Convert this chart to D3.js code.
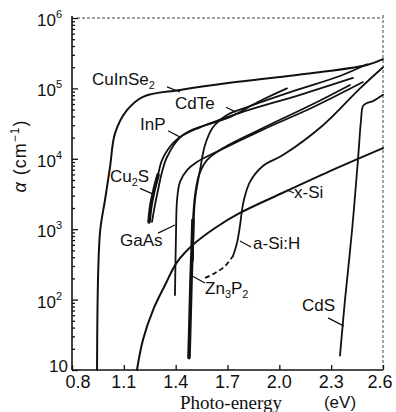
<!DOCTYPE html>
<html>
<head>
<meta charset="utf-8">
<script src="https://cdn.jsdelivr.net/npm/d3@7"></script>
<style>
body{margin:0;background:#fff}
svg{display:block;background:#fff}
text{font-family:"Liberation Sans",Arial,sans-serif;fill:#111}
</style>
</head>
<body>
<svg id="chart"></svg>
<script>
// tick values / labels
const xTicks=[0.8,1.1,1.4,1.7,2.0,2.3,2.6];
const xTickLabels=['0.8','1.1','1.4','1.7','2.0','2.3','2.6'];
const yTicks=[10,1e2,1e3,1e4,1e5,1e6];
const yTickExp=['','2','3','4','5','6'];

// curves: [photon energy (eV), alpha (cm^-1)]
const cuInSe2=[[0.945,10],[0.962,890],[0.991,2600],[1.020,7600],[1.049,2.3e4],[1.118,4.9e4],[1.211,7.6e4],[1.425,9.5e4],[1.714,1.2e5],[2.102,1.55e5],[2.507,2.15e5],[2.600,2.6e5]];
const cdTe=[[1.500,360],[1.512,2600],[1.541,6900],[1.570,1.57e4],[1.616,2.8e4],[1.697,4.2e4],[1.830,5.6e4],[2.102,9.5e4],[2.351,1.5e5],[2.507,2.2e5]];
const inP=[[1.263,1270],[1.280,2200],[1.298,3600],[1.321,6500],[1.350,1.06e4],[1.425,2.0e4],[1.541,2.8e4],[1.772,4.5e4],[2.120,8.1e4],[2.426,1.41e5]];
const cu2S=[[1.246,1270],[1.257,2200],[1.275,3600],[1.298,5900],[1.321,9600],[1.385,1.67e4],[1.483,2.5e4],[1.714,3.9e4],[1.876,6.4e4],[2.044,1.0e5]];
const gaAs=[[1.396,116],[1.402,880],[1.408,2600],[1.425,4700],[1.466,6900],[1.523,9000],[1.657,1.33e4],[1.905,2.6e4],[2.195,5.4e4],[2.484,1.23e5]];
const zn3P2=[[1.477,15],[1.483,51],[1.489,190],[1.495,510],[1.500,1350],[1.512,3060],[1.535,5900],[1.581,9600],[1.674,1.42e4],[1.905,2.74e4],[2.195,6.0e4],[2.409,1.12e5]];
const xSi=[[1.176,10],[1.211,27],[1.269,71],[1.338,160],[1.408,340],[1.500,600],[1.628,1040],[1.772,1700],[2.004,3160],[2.293,6700],[2.600,1.42e4]];
const aSiHDashed=[[1.570,203],[1.628,239],[1.686,300],[1.732,416]];
const aSiH=[[1.732,416],[1.755,640],[1.772,1110],[1.784,1870],[1.795,2600],[1.830,4700],[1.905,7900],[2.021,1.13e4],[2.253,3.0e4],[2.467,1.0e5],[2.600,2.0e5]];
const cdS=[[2.351,16],[2.380,99],[2.421,975],[2.455,9600],[2.473,3.6e4],[2.484,5.6e4],[2.507,6.2e4],[2.542,6.6e4],[2.600,8.1e4]];

// curve labels: text pieces ([text, subscript?]), text anchor and leader line
const labels=[
  {t:[['CuInSe',0],['2',1]],at:[0.916,9.8e4],lead:[[1.350,1.05e5],[1.425,8.9e4]]},
  {t:[['CdTe',0]],at:[1.396,4.5e4],lead:[[1.691,5.4e4],[1.749,4.6e4]]},
  {t:[['InP',0]],at:[1.194,2.25e4],lead:[[1.356,2.5e4],[1.431,2.0e4]]},
  {t:[['Cu',0],['2',1],['S',0]],at:[1.020,4100],lead:[[1.194,3800],[1.263,3200]]},
  {t:[['GaAs',0]],at:[1.078,510],lead:[[1.298,880],[1.396,1150]]},
  {t:[['x-Si',0]],at:[2.085,2430],lead:[[2.044,3600],[2.085,3270]]},
  {t:[['a-Si:H',0]],at:[1.848,460],lead:[[1.772,680],[1.836,560]]},
  {t:[['Zn',0],['3',1],['P',0],['2',1]],at:[1.570,105],lead:[[1.495,216],[1.570,172]]},
  {t:[['CdS',0]],at:[2.131,60],lead:[[2.282,55],[2.374,42]]}
];

const width=396, height=412;
const padLeft=72, padRight=383, padTop=18, padBottom=370;

const svg=d3.select('#chart').attr('width',width).attr('height',height);

const xScale=d3.scaleLinear().domain([0.8,2.6]).range([padLeft,padRight]);
const yScale=d3.scaleLog().domain([10,1e6]).range([padBottom,padTop]);

// frame
svg.append('line').attr('x1',padLeft).attr('x2',padLeft).attr('y1',padTop-2).attr('y2',padBottom)
  .attr('stroke','#111').attr('stroke-width',1.6);
svg.append('line').attr('x1',padLeft).attr('x2',padRight).attr('y1',padBottom).attr('y2',padBottom)
  .attr('stroke','#111').attr('stroke-width',1.6);
svg.append('line').attr('x1',padLeft+5).attr('x2',padRight).attr('y1',padTop).attr('y2',padTop)
  .attr('stroke','#444').attr('stroke-width',1).attr('stroke-dasharray','3,2');
svg.append('line').attr('x1',padRight).attr('x2',padRight).attr('y1',padTop-3).attr('y2',padBottom)
  .attr('stroke','#444').attr('stroke-width',1).attr('stroke-dasharray','3,2');

// y ticks (inside)
let yMinor=[];
for(let e=1;e<6;e++){for(let k=2;k<10;k++){yMinor.push(k*Math.pow(10,e));}}
let gyMinor=svg.append('g').attr('transform','translate('+padLeft+',0)')
  .call(d3.axisLeft(yScale).tickValues(yMinor).tickSize(-3).tickFormat(''));
let gy=svg.append('g').attr('transform','translate('+padLeft+',0)')
  .call(d3.axisLeft(yScale).tickValues(yTicks).tickSize(-6).tickFormat(''));
let gx=svg.append('g').attr('transform','translate(0,'+padBottom+')')
  .call(d3.axisBottom(xScale).tickValues(xTicks).tickSize(-5).tickFormat(''));
[gyMinor,gy,gx].forEach(g=>{
  g.select('.domain').remove();
  g.selectAll('line').attr('stroke','#111').attr('stroke-width',1.3);
});

// y tick labels
yTicks.forEach((v,i)=>{
  let t=svg.append('text')
    .attr('x',yTickExp[i]?padLeft-10:padLeft-4)
    .attr('y',yScale(v)+(yTickExp[i]?8:2))
    .attr('text-anchor','end')
    .attr('font-size',17)
    .text('10');
  if(yTickExp[i]){
    t.append('tspan').attr('dy',-8).attr('font-size',11).text(yTickExp[i]);
  }
});

// x tick labels
xTicks.forEach((v,i)=>{
  svg.append('text')
    .attr('x',xScale(v)+(i==0?6:(i==xTicks.length-1?-3:0)))
    .attr('y',388)
    .attr('text-anchor','middle')
    .attr('font-size',18)
    .text(xTickLabels[i]);
});

// axis titles
svg.append('text').attr('x',180).attr('y',409)
  .style('font-family','"Liberation Serif","Times New Roman",serif')
  .attr('font-size',19).text('Photo-energy');
svg.append('text').attr('x',340).attr('y',408).attr('text-anchor','middle')
  .attr('font-size',17).text('(eV)');
let yt=svg.append('text').attr('transform','translate(26,156) rotate(-90)')
  .attr('text-anchor','middle').attr('font-size',18).attr('letter-spacing',1);
yt.append('tspan').style('font-style','italic').text('α');
yt.append('tspan').text('  (cm');
yt.append('tspan').attr('dy',-7).attr('font-size',12).text('−1');
yt.append('tspan').attr('dy',7).text(')');

// curves
const line=d3.line()
  .x(d=>xScale(d[0]))
  .y(d=>yScale(d[1]))
  .curve(d3.curveCatmullRom.alpha(0.5));

const curves=[
  {data:cuInSe2,w:2},
  {data:cdTe,w:1.8},
  {data:inP,w:1.8},
  {data:cu2S,w:1.8,thickBelow:6000},
  {data:gaAs,w:1.8},
  {data:zn3P2,w:1.8,thickBelow:1400},
  {data:xSi,w:2},
  {data:aSiH,w:1.8},
  {data:cdS,w:1.8}
];

curves.forEach(c=>{
  svg.append('path').attr('d',line(c.data))
    .attr('fill','none').attr('stroke','#111').attr('stroke-width',c.w)
    .attr('stroke-linejoin','round').attr('stroke-linecap','round');
  if(c.thickBelow){
    svg.append('path').attr('d',line(c.data.filter(d=>d[1]<=c.thickBelow)))
      .attr('fill','none').attr('stroke','#111').attr('stroke-width',3.6)
      .attr('stroke-linecap','round');
  }
});
svg.append('path').attr('d',line(aSiHDashed))
  .attr('fill','none').attr('stroke','#111').attr('stroke-width',1.8)
  .attr('stroke-dasharray','5,3');

// labels
labels.forEach(l=>{
  let t=svg.append('text').attr('x',xScale(l.at[0])).attr('y',yScale(l.at[1]))
    .attr('font-size',17);
  l.t.forEach(p=>{
    if(p[1]) t.append('tspan').attr('dy',4).attr('font-size',11).text(p[0]);
    else t.append('tspan').attr('dy',t.selectAll('tspan').size()?-4:0).text(p[0]);
  });
  svg.append('line')
    .attr('x1',xScale(l.lead[0][0])).attr('y1',yScale(l.lead[0][1]))
    .attr('x2',xScale(l.lead[1][0])).attr('y2',yScale(l.lead[1][1]))
    .attr('stroke','#111').attr('stroke-width',1.2);
});
</script>
</body>
</html>
